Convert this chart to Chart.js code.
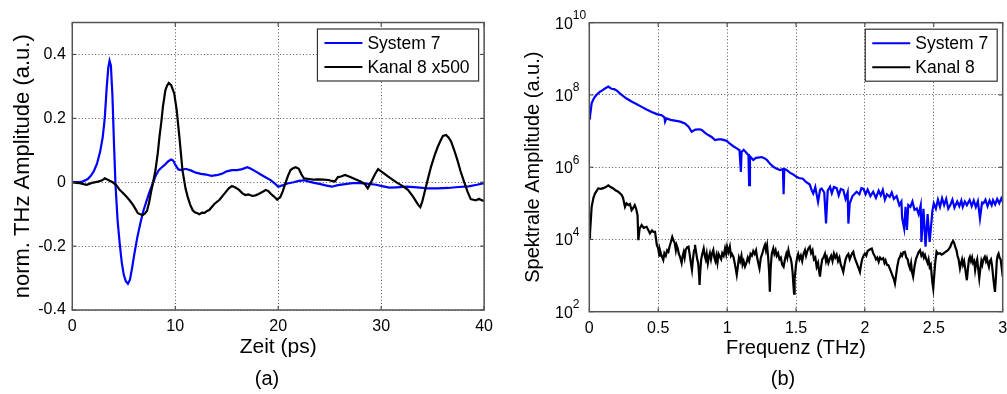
<!DOCTYPE html>
<html>
<head>
<meta charset="utf-8">
<script src="https://cdn.jsdelivr.net/npm/chart.js@4.4.1/dist/chart.umd.min.js"></script>
<style>
  html, body { margin: 0; padding: 0; background: #fff; overflow: hidden; width: 1007px; height: 394px; }
  .pane { position: absolute; top: 0; height: 394px; }
  #pane-a { left: 0; width: 500px; }
  #pane-b { left: 500px; width: 520px; }
  .caption { position: absolute; top: 367px; transform: translateX(-50%); font: 20px "Liberation Sans", Arial, sans-serif; color: #000; }
</style>
</head>
<body>
<div class="pane" id="pane-a"><canvas id="timeChart"></canvas></div>
<div class="pane" id="pane-b"><canvas id="specChart"></canvas></div>
<div class="caption" style="left:267px">(a)</div>
<div class="caption" style="left:783px">(b)</div>
<script>
// (a) time traces, ps -> normalised amplitude
const timeSys7 = [0, 0.5, 1.0, 1.5, 1.8, 2.1, 2.4, 2.7, 2.95, 3.15, 3.35, 3.5, 3.62, 3.75, 3.9, 4.05, 4.2, 4.4, 4.6, 4.8, 5.0, 5.2, 5.4, 5.6, 5.8, 6.0, 6.3, 6.6, 6.9, 7.2, 7.5, 7.8, 8.1, 8.4, 8.7, 9.0, 9.3, 9.6, 9.8, 10.0, 10.3, 10.6, 11.0, 11.5, 12.0, 12.5, 13.0, 13.5, 14.0, 14.5, 15.0, 15.5, 16.0, 16.5, 17.0, 17.3, 17.8, 18.3, 18.8, 19.3, 19.7, 20.0, 20.4, 20.9, 21.5, 22.0, 22.5, 23.0, 23.5, 24.0, 24.6, 25.2, 25.8, 26.5, 27.2, 28.0, 28.8, 29.5, 30.2, 30.8, 31.5, 32.5, 33.5, 34.5, 35.5, 36.5, 37.5, 38.5, 39.3, 40];
const ampSys7 = [0, 0, 0.002, 0.01, 0.02, 0.035, 0.058, 0.095, 0.14, 0.2, 0.3, 0.36, 0.38, 0.365, 0.27, 0.12, -0.01, -0.12, -0.19, -0.25, -0.29, -0.31, -0.318, -0.305, -0.27, -0.23, -0.175, -0.13, -0.09, -0.06, -0.03, -0.005, 0.02, 0.038, 0.047, 0.055, 0.065, 0.071, 0.068, 0.055, 0.04, 0.038, 0.042, 0.037, 0.03, 0.026, 0.024, 0.02, 0.022, 0.026, 0.034, 0.038, 0.038, 0.041, 0.047, 0.043, 0.034, 0.024, 0.015, 0.006, -0.005, -0.014, -0.01, -0.004, 0.0, 0.004, 0.006, 0.002, -0.002, -0.005, -0.01, -0.014, -0.009, -0.006, -0.003, -0.003, -0.005, -0.008, -0.013, -0.017, -0.016, -0.014, -0.016, -0.019, -0.019, -0.018, -0.015, -0.013, -0.008, -0.003];
const timeKanal8 = [0, 0.4, 0.74, 1.1, 1.4, 1.9, 2.5, 2.9, 3.16, 3.5, 3.96, 4.3, 4.6, 4.9, 5.25, 5.6, 5.9, 6.1, 6.37, 6.6, 6.85, 7.05, 7.25, 7.45, 7.66, 7.85, 8.08, 8.3, 8.47, 8.65, 8.8, 9.04, 9.2, 9.37, 9.6, 9.9, 10.14, 10.4, 10.7, 11.0, 11.2, 11.45, 11.68, 11.9, 12.16, 12.35, 12.6, 12.85, 13.1, 13.3, 13.8, 14.3, 14.8, 15.2, 15.5, 15.8, 16.2, 16.5, 16.8, 17.1, 17.5, 17.8, 18.1, 18.5, 18.8, 19.05, 19.3, 19.6, 19.9, 20.05, 20.2, 20.45, 20.7, 20.95, 21.2, 21.45, 21.7, 22.0, 22.25, 22.5, 23.0, 23.4, 23.9, 24.4, 24.9, 25.2, 25.5, 25.8, 26.1, 26.5, 27.0, 27.5, 28.0, 28.4, 28.7, 29.05, 29.4, 29.7, 30.0, 30.3, 30.66, 31.1, 31.6, 32.1, 32.6, 33.1, 33.6, 33.8, 34.0, 34.2, 34.5, 34.85, 35.2, 35.5, 35.8, 36.0, 36.3, 36.55, 36.8, 37.1, 37.4, 37.7, 38.05, 38.4, 38.7, 38.95, 39.2, 39.5, 39.8, 40];
const ampKanal8 = [0, -0.002, -0.003, -0.006, -0.008, -0.002, 0.002, 0.006, 0.012, 0.007, -0.001, -0.01, -0.024, -0.033, -0.045, -0.058, -0.071, -0.082, -0.097, -0.1, -0.103, -0.098, -0.09, -0.065, -0.029, 0.0, 0.038, 0.09, 0.143, 0.19, 0.236, 0.288, 0.302, 0.311, 0.304, 0.278, 0.226, 0.143, 0.038, -0.02, -0.045, -0.07, -0.087, -0.094, -0.097, -0.1, -0.095, -0.096, -0.09, -0.087, -0.068, -0.055, -0.035, -0.019, -0.012, -0.016, -0.024, -0.034, -0.04, -0.038, -0.043, -0.041, -0.037, -0.03, -0.024, -0.028, -0.037, -0.045, -0.055, -0.05, -0.047, -0.028, -0.003, 0.02, 0.038, 0.044, 0.047, 0.042, 0.025, 0.012, 0.01, 0.008, 0.009, 0.008, 0.007, 0.004, 0.002, 0.016, 0.018, 0.023, 0.016, 0.009, 0.002, -0.005, -0.019, 0.002, 0.025, 0.041, 0.034, 0.027, 0.018, 0.008, -0.003, -0.012, -0.024, -0.045, -0.071, -0.078, -0.06, -0.034, 0.005, 0.049, 0.085, 0.111, 0.132, 0.145, 0.148, 0.14, 0.127, 0.1, 0.07, 0.036, 0.002, -0.03, -0.053, -0.055, -0.057, -0.052, -0.057, -0.058];

// (b) spectra, THz -> log10 of spectral amplitude
const freqSys7 = [0.0, 0.005, 0.017, 0.03, 0.041, 0.06, 0.078, 0.1, 0.114, 0.138, 0.15, 0.162, 0.18, 0.2, 0.22, 0.235, 0.27, 0.31, 0.345, 0.38, 0.415, 0.453, 0.49, 0.525, 0.545, 0.55, 0.56, 0.59, 0.62, 0.66, 0.694, 0.72, 0.743, 0.77, 0.8, 0.816, 0.84, 0.864, 0.89, 0.912, 0.935, 0.96, 0.997, 1.02, 1.045, 1.07, 1.09, 1.1, 1.105, 1.12, 1.14, 1.155, 1.16, 1.166, 1.19, 1.21, 1.25, 1.27, 1.29, 1.31, 1.335, 1.36, 1.384, 1.405, 1.41, 1.415, 1.43, 1.455, 1.48, 1.5, 1.52, 1.55, 1.57, 1.6, 1.615, 1.625, 1.64, 1.66, 1.675, 1.686, 1.705, 1.718, 1.73, 1.747, 1.76, 1.775, 1.795, 1.81, 1.825, 1.843, 1.86, 1.875, 1.88, 1.89, 1.91, 1.94, 1.96, 1.975, 1.99, 2.005, 2.02, 2.04, 2.06, 2.08, 2.1, 2.115, 2.13, 2.145, 2.16, 2.18, 2.195, 2.21, 2.23, 2.25, 2.265, 2.27, 2.285, 2.295, 2.305, 2.315, 2.33, 2.345, 2.36, 2.376, 2.39, 2.405, 2.41, 2.425, 2.44, 2.455, 2.47, 2.49, 2.5, 2.515, 2.53, 2.545, 2.56, 2.575, 2.59, 2.605, 2.62, 2.635, 2.65, 2.67, 2.685, 2.7, 2.71, 2.725, 2.74, 2.76, 2.775, 2.79, 2.805, 2.82, 2.835, 2.85, 2.86, 2.875, 2.89, 2.905, 2.92, 2.93, 2.945, 2.96, 2.975, 2.99, 3.0];
const logSys7 = [7.35, 7.40, 7.77, 7.88, 7.95, 8.03, 8.09, 8.14, 8.18, 8.23, 8.2, 8.17, 8.16, 8.12, 8.05, 8.0, 7.9, 7.81, 7.74, 7.67, 7.6, 7.53, 7.47, 7.44, 7.38, 7.26, 7.35, 7.31, 7.29, 7.26, 7.21, 7.12, 6.98, 7.04, 7.05, 7.03, 6.95, 6.89, 6.83, 6.75, 6.77, 6.77, 6.73, 6.65, 6.58, 6.52, 6.47, 5.87, 6.42, 6.48, 6.4, 6.33, 5.5, 6.3, 6.2, 6.26, 6.28, 6.25, 6.2, 6.1, 6.01, 5.96, 5.92, 5.95, 5.25, 5.95, 5.93, 5.85, 5.8, 5.74, 5.7, 5.68, 5.6, 5.52, 5.35, 5.27, 5.45, 5.04, 5.38, 5.41, 5.3, 4.44, 5.35, 5.46, 5.28, 5.45, 5.42, 5.22, 5.4, 5.37, 5.12, 5.3, 4.44, 5.0, 5.2, 5.32, 5.25, 5.42, 5.4, 5.25, 5.38, 5.2, 5.32, 5.15, 5.35, 5.22, 5.37, 5.1, 5.25, 5.18, 5.3, 5.12, 5.2, 4.95, 5.05, 4.6, 4.3, 4.9, 4.26, 4.95, 4.9, 5.05, 4.82, 4.86, 4.7, 4.95, 3.93, 4.85, 3.8, 4.7, 3.93, 4.8, 5.0, 4.85, 5.1, 4.9, 5.14, 4.95, 5.12, 4.85, 4.95, 5.1, 4.88, 5.05, 4.92, 5.08, 4.9, 5.05, 4.95, 5.09, 4.92, 5.08, 4.9, 5.06, 4.58, 5.02, 5.0, 5.1, 4.92, 5.08, 4.95, 5.09, 4.97, 5.12, 5.0, 5.14, 5.05];
const freqKanal8 = [0.0, 0.005, 0.017, 0.03, 0.041, 0.065, 0.085, 0.102, 0.12, 0.138, 0.155, 0.174, 0.19, 0.21, 0.235, 0.245, 0.259, 0.27, 0.283, 0.295, 0.307, 0.32, 0.33, 0.34, 0.35, 0.356, 0.365, 0.38, 0.395, 0.416, 0.43, 0.44, 0.455, 0.465, 0.477,
  0.49, 0.50, 0.508, 0.513, 0.52, 0.53, 0.537, 0.545, 0.555, 0.565,
  0.574, 0.582, 0.59, 0.602, 0.61, 0.62, 0.628, 0.634, 0.642, 0.65,
  0.66, 0.67, 0.678, 0.685, 0.692, 0.7, 0.71, 0.72, 0.728, 0.735,
  0.745, 0.752, 0.76, 0.767, 0.775, 0.783, 0.79, 0.797, 0.8, 0.805,
  0.812, 0.82, 0.83, 0.838, 0.845, 0.852, 0.86, 0.867, 0.875, 0.883,
  0.89, 0.9, 0.907, 0.915, 0.922, 0.93, 0.938, 0.948, 0.957, 0.965,
  0.975, 0.985, 0.993, 1.0, 1.01, 1.02, 1.028, 1.035, 1.046, 1.055,
  1.062, 1.07, 1.078, 1.086, 1.095, 1.104, 1.112, 1.12, 1.13, 1.14,
  1.15, 1.16, 1.17, 1.18, 1.19, 1.2, 1.21, 1.218, 1.226, 1.235,
  1.245, 1.255, 1.265, 1.275, 1.282, 1.29, 1.298, 1.305, 1.31, 1.316,
  1.324, 1.335, 1.343, 1.352, 1.36, 1.37, 1.38, 1.39, 1.4, 1.41,
  1.42, 1.43, 1.437, 1.445, 1.453, 1.46, 1.468, 1.475, 1.482, 1.486,
  1.49, 1.5, 1.508, 1.516, 1.525, 1.535, 1.545, 1.555, 1.565, 1.573,
  1.58, 1.59, 1.6, 1.61, 1.62, 1.63, 1.64, 1.65, 1.66, 1.668,
  1.674, 1.682, 1.69, 1.7, 1.71, 1.718, 1.725, 1.735, 1.745, 1.755,
  1.765, 1.775, 1.785, 1.795, 1.805, 1.815, 1.825, 1.835, 1.843, 1.852,
  1.86, 1.87, 1.88, 1.89, 1.9, 1.908, 1.916, 1.925, 1.935, 1.945,
  1.955, 1.964, 1.972, 1.98, 1.99, 2.0, 2.01, 2.02, 2.035, 2.05,
  2.06, 2.07, 2.08, 2.09, 2.1, 2.11, 2.12, 2.133, 2.142, 2.15,
  2.16, 2.17, 2.18, 2.19, 2.2, 2.21, 2.218, 2.226, 2.235, 2.245,
  2.255, 2.262, 2.27, 2.28, 2.29, 2.3, 2.31, 2.318, 2.327, 2.335,
  2.342, 2.35, 2.36, 2.37, 2.38, 2.39, 2.4, 2.41, 2.42, 2.428,
  2.436, 2.445, 2.455, 2.462, 2.47, 2.478, 2.485, 2.49, 2.496, 2.503,
  2.51, 2.52, 2.53, 2.545, 2.557, 2.57, 2.582, 2.595, 2.607, 2.62,
  2.63, 2.64, 2.648, 2.655, 2.665, 2.672, 2.68, 2.69, 2.698, 2.705,
  2.712, 2.72, 2.728, 2.735, 2.74, 2.748, 2.755, 2.762, 2.77, 2.778,
  2.785, 2.793, 2.8, 2.808, 2.815, 2.822, 2.83, 2.838, 2.845, 2.852,
  2.86, 2.87, 2.878, 2.885, 2.892, 2.9, 2.907, 2.915, 2.922, 2.93,
  2.937, 2.944, 2.95, 2.957, 2.963, 2.97, 2.977, 2.985, 2.99, 2.995, 3.0];
const logKanal8 = [4.05, 4.17, 4.9, 5.15, 5.27, 5.41, 5.4, 5.42, 5.45, 5.5, 5.45, 5.41, 5.36, 5.32, 5.23, 5.15, 4.9, 5.0, 4.95, 4.98, 4.81, 4.88, 4.95, 4.85, 4.67, 3.98, 4.3, 4.4, 4.32, 4.35, 4.25, 4.17, 4.25, 4.21, 4.21,
  3.85, 3.75, 3.55, 3.70, 3.6, 3.5, 3.43, 3.62, 3.55, 3.7,
  3.66, 3.8, 3.9, 4.07, 3.98, 3.9, 3.7, 3.84, 3.75, 3.6,
  3.5, 3.35, 3.55, 3.65, 3.5, 3.72, 3.78, 3.80, 3.6, 3.4,
  3.16, 3.45, 3.7, 3.85, 3.65, 3.45, 3.35, 3.0, 2.74, 3.1,
  3.45, 3.6, 3.75, 3.55, 3.45, 3.6, 3.34, 3.5, 3.62, 3.45,
  3.6, 3.71, 3.5, 3.4, 3.55, 3.35, 3.6, 3.52, 3.45, 3.62,
  3.55, 3.75, 3.6, 3.8, 3.65, 3.80, 3.55, 3.6, 3.52, 3.35,
  3.2, 3.02, 3.25, 3.5, 3.4, 3.55, 3.3, 3.4, 3.25, 3.35,
  3.5, 3.4, 3.6, 3.55, 3.68, 3.6, 3.70, 3.5, 3.35, 3.20,
  3.5, 3.6, 3.75, 3.85, 3.7, 3.84, 3.5, 3.1, 2.55, 3.2,
  3.6, 3.75, 3.6, 3.7, 3.55, 3.62, 3.45, 3.5, 3.3, 3.24,
  3.45, 3.6, 3.5, 3.70, 3.55, 3.5, 3.35, 3.1, 2.7, 2.5,
  2.9, 3.3, 3.5, 3.6, 3.45, 3.55, 3.4, 3.6, 3.70, 3.55,
  3.65, 3.75, 3.80, 3.62, 3.7, 3.45, 3.5, 3.24, 3.35, 3.1,
  2.97, 3.25, 3.45, 3.5, 3.6, 3.4, 3.5, 3.35, 3.47, 3.55,
  3.4, 3.61, 3.5, 3.58, 3.4, 3.5, 3.3, 3.2, 3.10, 3.3,
  3.45, 3.55, 3.6, 3.45, 3.55, 3.62, 3.66, 3.5, 3.4, 3.3,
  3.2, 3.10, 3.3, 3.45, 3.55, 3.61, 3.55, 3.68, 3.72, 3.75,
  3.62, 3.55, 3.45, 3.5, 3.38, 3.5, 3.45, 3.48, 3.35, 3.42,
  3.3, 3.29, 3.2, 3.1, 3.0, 2.9, 2.78, 3.0, 3.25, 3.45,
  3.52, 3.6, 3.55, 3.65, 3.66, 3.5, 3.45, 3.3, 3.20, 3.35,
  3.1, 2.97, 3.25, 3.45, 3.55, 3.65, 3.70, 3.55, 3.62, 3.5,
  3.57, 3.45, 3.35, 3.45, 3.24, 3.3, 3.0, 2.8, 2.64, 3.0,
  3.35, 3.66, 3.6, 3.62, 3.58, 3.61, 3.65, 3.68, 3.72, 3.80,
  3.9, 3.96, 3.9, 3.8, 3.70, 3.55, 3.45, 3.20, 3.35, 3.45,
  3.3, 3.4, 3.2, 3.0, 2.87, 3.2, 3.45, 3.52, 3.4, 3.5,
  3.35, 3.4, 3.15, 3.35, 3.45, 3.2, 2.92, 3.2, 3.4, 3.3,
  3.45, 3.52, 3.4, 3.48, 3.35, 3.24, 3.4, 3.45, 3.3, 3.0,
  2.75, 2.55, 2.9, 3.4, 3.55, 3.61, 3.5, 3.45, 3.3, 3.15, 2.97];

const timeTicks = [0, 10, 20, 30, 40];
const ampTicks = [-0.4, -0.2, 0, 0.2, 0.4];
const freqTicks = [0, 0.5, 1, 1.5, 2, 2.5, 3];
const specTicks = [1e2, 1e4, 1e6, 1e8, 1e10];

const BLUE = "#0000ff";
const BLACK = "#000000";
const FONT = '"Liberation Sans", Arial, sans-serif';

Chart.defaults.font.family = FONT;
Chart.defaults.color = "#000";

function pairs(xs, ys) {
  return xs.map((x, i) => ({ x: x, y: ys[i] }));
}

// box, inward ticks, decade labels and legend, drawn the Matlab way
const framePlugin = {
  id: "frame",
  afterDraw(chart, args, opts) {
    const ctx = chart.ctx;
    const a = chart.chartArea;
    const sx = chart.scales.x, sy = chart.scales.y;
    ctx.save();
    ctx.strokeStyle = "#333";
    ctx.lineWidth = 1;
    ctx.beginPath();
    for (const t of sx.ticks) {
      const px = sx.getPixelForValue(t.value);
      ctx.moveTo(px, a.bottom); ctx.lineTo(px, a.bottom - 4);
      ctx.moveTo(px, a.top); ctx.lineTo(px, a.top + 4);
    }
    for (const t of sy.ticks) {
      const py = sy.getPixelForValue(t.value);
      ctx.moveTo(a.left, py); ctx.lineTo(a.left + 4, py);
      ctx.moveTo(a.right, py); ctx.lineTo(a.right - 4, py);
    }
    ctx.stroke();
    ctx.strokeStyle = "#555";
    ctx.lineWidth = 1.5;
    ctx.strokeRect(a.left, a.top, a.right - a.left, a.bottom - a.top);

    if (opts.decades) {
      ctx.fillStyle = "#000";
      ctx.textBaseline = "middle";
      for (const t of sy.ticks) {
        const py = sy.getPixelForValue(t.value);
        const exp = Math.round(Math.log10(t.value));
        ctx.font = "16px " + FONT;
        ctx.textAlign = "right";
        ctx.fillText("10", a.left - 16.5, py + 1.5);
        ctx.font = "12px " + FONT;
        ctx.textAlign = "left";
        ctx.fillText(String(exp), a.left - 16.5, py - 7);
      }
    }

    // legend box in the upper right corner
    const sets = chart.data.datasets;
    ctx.font = "17.5px " + FONT;
    const textW = Math.max(...sets.map(d => ctx.measureText(d.label).width));
    const w = 7 + 38 + 5 + textW + 9;
    const h = 52;
    const x0 = a.right - 5.5 - w;
    const y0 = a.top + 6.5;
    ctx.fillStyle = "#fff";
    ctx.fillRect(x0, y0, w, h);
    ctx.strokeStyle = "#333";
    ctx.lineWidth = 1.2;
    ctx.strokeRect(x0, y0, w, h);
    sets.forEach((d, i) => {
      const ly = y0 + 14 + i * 24;
      ctx.strokeStyle = d.borderColor;
      ctx.lineWidth = 2;
      ctx.beginPath();
      ctx.moveTo(x0 + 7, ly);
      ctx.lineTo(x0 + 45, ly);
      ctx.stroke();
      ctx.fillStyle = "#000";
      ctx.textAlign = "left";
      ctx.textBaseline = "middle";
      ctx.fillText(d.label, x0 + 50, ly + 1);
    });
    ctx.restore();
  }
};

const gridStyle = { color: "#555", lineWidth: 1, drawTicks: false };
const dotted = { display: false, dash: [1, 2.3] };

function lineSet(label, data, color, order) {
  return {
    label: label,
    data: data,
    borderColor: color,
    backgroundColor: color,
    borderWidth: 2.2,
    pointRadius: 0,
    tension: 0,
    order: order
  };
}

new Chart("timeChart", {
  type: "line",
  data: {
    datasets: [
      lineSet("System 7", pairs(timeSys7, ampSys7), BLUE, 1),
      lineSet("Kanal 8 x500", pairs(timeKanal8, ampKanal8), BLACK, 0)
    ]
  },
  plugins: [framePlugin],
  options: {
    responsive: true,
    maintainAspectRatio: false,
    animation: false,
    layout: { padding: { top: 22.5, right: 13.3, left: 0, bottom: 0 } },
    plugins: { legend: { display: false }, tooltip: { enabled: false }, frame: { decades: false } },
    scales: {
      x: {
        type: "linear", min: 0, max: 40,
        afterBuildTicks: s => { s.ticks = timeTicks.map(v => ({ value: v })); },
        afterFit: s => { s.height = 84; },
        ticks: { font: { size: 16 }, padding: 7, maxRotation: 0, callback: v => String(v) },
        grid: gridStyle, border: dotted,
        title: { display: true, text: "Zeit (ps)", font: { size: 21 }, padding: { bottom: 34 } }
      },
      y: {
        type: "linear", min: -0.4, max: 0.5,
        afterBuildTicks: s => { s.ticks = ampTicks.map(v => ({ value: v })); },
        afterFit: s => { s.width = 72.3; },
        ticks: { font: { size: 16 }, padding: 6.5, callback: v => String(Number(v.toFixed(1))) },
        grid: gridStyle, border: dotted,
        title: { display: true, text: "norm. THz Amplitude (a.u.)", font: { size: 22 }, padding: { top: 10 } }
      }
    }
  }
});

new Chart("specChart", {
  type: "line",
  data: {
    datasets: [
      lineSet("System 7", pairs(freqSys7, logSys7.map(e => Math.pow(10, e))), BLUE, 1),
      lineSet("Kanal 8", pairs(freqKanal8, logKanal8.map(e => Math.pow(10, e))), BLACK, 0)
    ]
  },
  plugins: [framePlugin],
  options: {
    responsive: true,
    maintainAspectRatio: false,
    animation: false,
    layout: { padding: { top: 22.7, right: 17.3, left: 0, bottom: 0 } },
    plugins: { legend: { display: false }, tooltip: { enabled: false }, frame: { decades: true } },
    scales: {
      x: {
        type: "linear", min: 0, max: 3,
        afterBuildTicks: s => { s.ticks = freqTicks.map(v => ({ value: v })); },
        afterFit: s => { s.height = 82.3; },
        ticks: { font: { size: 16 }, padding: 7, maxRotation: 0, callback: v => String(v) },
        grid: gridStyle, border: dotted,
        title: { display: true, text: "Frequenz (THz)", font: { size: 20 }, padding: { bottom: 34 } }
      },
      y: {
        type: "logarithmic", min: 1e2, max: 1e10,
        afterBuildTicks: s => { s.ticks = specTicks.map(v => ({ value: v })); },
        afterFit: s => { s.width = 89.3; },
        ticks: { display: false },
        grid: gridStyle, border: dotted,
        title: { display: true, text: "Spektrale Amplitude (a.u.)", font: { size: 20 }, padding: { top: 21 } }
      }
    }
  }
});
</script>
</body>
</html>
